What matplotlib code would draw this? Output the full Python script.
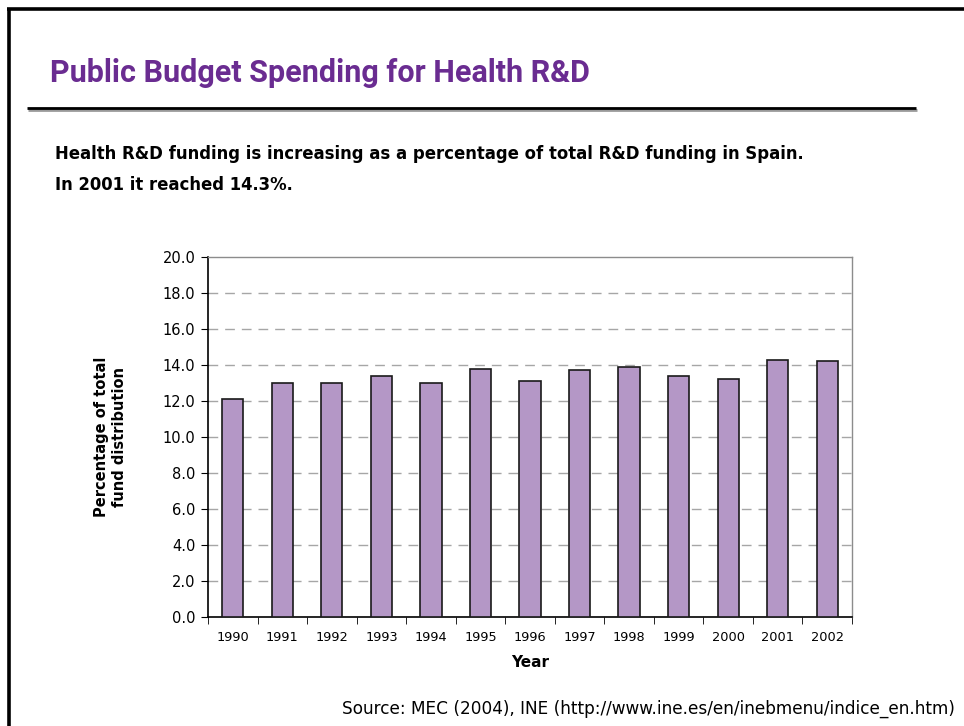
import matplotlib
matplotlib.use("Agg")
import matplotlib.pyplot as plt
from matplotlib.lines import Line2D
import numpy as np

years = ["1990", "1991", "1992", "1993", "1994", "1995", "1996",
         "1997", "1998", "1999", "2000", "2001", "2002"]
values = [12.1, 13.0, 13.0, 13.4, 13.0, 13.8, 13.1,
          13.7, 13.9, 13.4, 13.2, 14.3, 14.2]
yticks = [0, 2, 4, 6, 8, 10, 12, 14, 16, 18, 20]

title = "Public Budget Spending for Health R&D"
subtitle1 = "Health R&D funding is increasing as a percentage of total R&D funding in Spain."
subtitle2 = "In 2001 it reached 14.3%."
source = "Source: MEC (2004), INE (http://www.ine.es/en/inebmenu/indice_en.htm)"

W, H = 964, 726
fig = plt.figure(figsize=(W / 100, H / 100), dpi=100)
fig.patch.set_facecolor("white")

def fx(px):
    return px / W

def fy(py):
    return 1 - py / H

# slide frame (left and top border)
fig.add_artist(Line2D([fx(8.5), fx(8.5)], [fy(8.5), fy(H + 5)], color="black", lw=2.6,
                      transform=fig.transFigure, solid_capstyle="butt"))
fig.add_artist(Line2D([fx(7), fx(W + 5)], [fy(8.5), fy(8.5)], color="black", lw=2.6,
                      transform=fig.transFigure, solid_capstyle="butt"))

# title and rule
fig.text(fx(50), fy(73), title, color="#6A2C91", fontsize=22, fontweight="bold",
         family=["Roboto", "DejaVu Sans"], va="center", ha="left")
fig.add_artist(Line2D([fx(28), fx(917)], [fy(109.5), fy(109.5)], color="#9a9a9a", lw=2,
                      transform=fig.transFigure, solid_capstyle="butt"))
fig.add_artist(Line2D([fx(27), fx(916)], [fy(108), fy(108)], color="black", lw=2,
                      transform=fig.transFigure, solid_capstyle="butt"))

# subtitle
fig.text(fx(55), fy(154), subtitle1, color="black", fontsize=11.9, fontweight="bold",
         family=["DejaVu Sans"], va="center", ha="left")
fig.text(fx(55), fy(185), subtitle2, color="black", fontsize=11.9, fontweight="bold",
         family=["DejaVu Sans"], va="center", ha="left")

# source
fig.text(fx(955), fy(709), source, color="black", fontsize=12.2,
         family=["DejaVu Sans"], va="center", ha="right")

# axes
ax = fig.add_axes([fx(208), fy(617), fx(852) - fx(208), fy(257) - fy(617)])
x = np.arange(len(years))
ax.bar(x, values, width=0.43, color="#B497C6", edgecolor="#1a1a1a", linewidth=1.2, zorder=3)
ax.set_xlim(-0.5, len(years) - 0.5)
ax.set_ylim(0, 20)
ax.set_yticks(yticks)
ax.set_yticklabels([f"{v:.1f}" for v in yticks], fontsize=10.5)
ax.set_xticks(x)
ax.set_xticklabels(years, fontsize=9.3)
ax.tick_params(axis="x", which="major", length=0, pad=10)
ax.set_xticks(np.arange(len(years) + 1) - 0.5, minor=True)
ax.tick_params(axis="x", which="minor", length=5, direction="out", color="black")
ax.tick_params(axis="y", length=5, direction="out", color="black", pad=4)
for v in yticks[1:-1]:
    ax.axhline(v, color="#a6a6a6", lw=1.0, ls=(0, (7, 5)), zorder=1)

for s in ["left", "bottom"]:
    ax.spines[s].set_color("black")
    ax.spines[s].set_linewidth(1.2)
for s in ["top", "right"]:
    ax.spines[s].set_color("#8c8c8c")
    ax.spines[s].set_linewidth(1.0)

ax.set_xlabel("Year", fontsize=11, fontweight="bold", labelpad=8)
ax.set_ylabel("Percentage of total\nfund distribution", fontsize=10.5, fontweight="bold",
              labelpad=26, linespacing=1.2)

fig.savefig("out.png", dpi=100)
